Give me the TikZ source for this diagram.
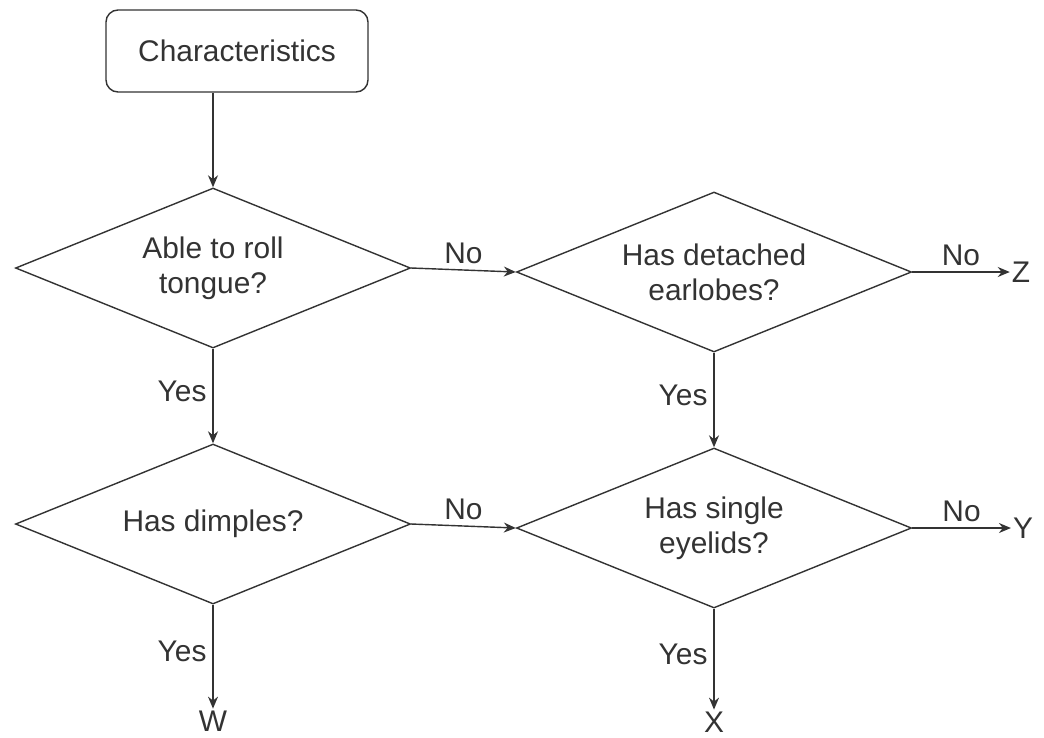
\documentclass[tikz,border=0pt]{standalone}
\usepackage{fontspec}
\setmainfont{Liberation Sans}
\usepackage{tikz}
\usetikzlibrary{shapes.geometric, arrows, arrows.meta}
\tikzset{
  %---------------------------------------%
  %  Flowchart boxes                      %
  %---------------------------------------%
  % Box for the starting point
  box_start/.style={
    rectangle,
    rounded corners=0.24cm,
    align=center,
    draw=black!80,
    line width=0.8pt,
    text=black!80,
    minimum width=5.24cm,
    minimum height=1.64cm,
    font=\fontsize{17}{20}\selectfont
  },
  % Box for the yes/no questions
  box_question/.style={
    diamond,
    aspect=2.5,
    inner sep=0pt,
    align=center,
    draw=black!80,
    line width=0.8pt,
    text=black!80,
    minimum width=7.9cm,
    minimum height=3.2cm,
    font=\fontsize{17}{20}\selectfont
  },
  % Box for the end letters
  box_end/.style={
    inner sep=1pt,
    text=black!80,
    font=\fontsize{17}{20}\selectfont
  },
  %----------------%
  %     Arrows     %
  %----------------%
  arrow/.style={draw=black!80,line width=0.8pt,->,>={Stealth[length=2.4mm,width=2mm]}},
  answer/.style={
    text=black!80,
    font=\fontsize{17}{20}\selectfont
  },
}

\begin{document}
\begin{tikzpicture}
    \useasboundingbox (0, 0) rectangle (20.88, -14.74);
    %-------------------%
    %  Starting point   %
    %-------------------%
    \node (chars) [box_start] at (4.74, -1.02) {Characteristics};

    %-------------------%
    %  First questions  %
    %-------------------%
    % Tongue
    \node (tongue) [box_question] at (4.26, -5.36) {Able to roll\\tongue?};
    % Earlobes
    \node (earlobes) [box_question] at (14.28, -5.44) {Has detached\\earlobes?};

    %--------------------%
    %  Second questions  %
    %--------------------%
    % Dimples
    \node (dimples) [box_question] at (4.26, -10.48) {Has dimples?};
    % Eyelids
    \node (eyelids) [box_question] at (14.28, -10.56) {Has single\\eyelids?};

    %-----------%
    %  Results  %
    %-----------%
    \node (z) [box_end] at (20.42, -5.44) {Z};
    \node (y) [box_end] at (20.46, -10.56) {Y};
    \node (w) [box_end] at (4.26, -14.42) {W};
    \node (x) [box_end] at (14.28, -14.44) {X};

    %----------%
    %  Arrows  %
    %----------%
    % Characteristics --> Tongue
    \draw [arrow] (chars.south -| tongue.north) -- (tongue.north);

    % Tongue --> Earlobes
    \draw [arrow] (tongue.east) -- node [answer, above] {No} (earlobes.west);
    % Tongue --> Dimples
    \draw [arrow] (tongue.south) -- node [answer, left, pos=0.45] {Yes} (dimples.north);

    % Earlobes --> Z
    \draw [arrow] (earlobes.east) -- node [answer, above] {No} (z.west);
    % Earlobes --> Eyelids
    \draw [arrow] (earlobes.south) -- node [answer, left, pos=0.45] {Yes} (eyelids.north);

    % Dimples --> Eyelids
    \draw [arrow] (dimples.east) -- node [answer, above] {No} (eyelids.west);
    % Dimples --> W
    \draw [arrow] (dimples.south) -- node [answer, left, pos=0.45] {Yes} (w.north);

    % Eyelids --> Y
    \draw [arrow] (eyelids.east) -- node [answer, above] {No} (y.west);
    % Eyelids --> X
    \draw [arrow] (eyelids.south) -- node [answer, left, pos=0.45] {Yes} (x.north);
  \end{tikzpicture}
\end{document}
